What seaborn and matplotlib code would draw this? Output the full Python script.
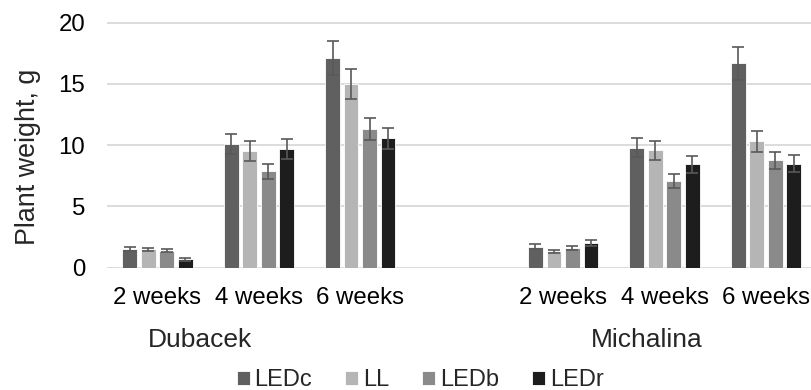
import pandas as pd
import matplotlib
matplotlib.use("Agg")
import matplotlib.pyplot as plt
import seaborn as sns

# Plant weight (g), mean and error, per treatment
# order in each list: Dubacek 2/4/6 weeks, Michalina 2/4/6 weeks
weeks = ["2 weeks", "4 weeks", "6 weeks"]
cultivars = ["Dubacek", "Michalina"]
treatments = ["LEDc", "LL", "LEDb", "LEDr"]

ledc = [1.55, 10.1, 17.1, 1.7, 9.8, 16.7]
ll = [1.5, 9.5, 15.0, 1.32, 9.6, 10.3]
ledb = [1.4, 7.85, 11.3, 1.6, 7.1, 8.75]
ledr = [0.68, 9.7, 10.55, 2.0, 8.43, 8.5]

ledc_err = [0.15, 0.85, 1.4, 0.2, 0.8, 1.35]
ll_err = [0.13, 0.8, 1.2, 0.13, 0.78, 0.86]
ledb_err = [0.12, 0.65, 0.9, 0.18, 0.57, 0.72]
ledr_err = [0.12, 0.8, 0.85, 0.22, 0.7, 0.7]

colors = {"LEDc": "#606060", "LL": "#b5b5b5", "LEDb": "#8a8a8a", "LEDr": "#1d1d1d"}

# build long table
means = {"LEDc": ledc, "LL": ll, "LEDb": ledb, "LEDr": ledr}
errs = {"LEDc": ledc_err, "LL": ll_err, "LEDb": ledb_err, "LEDr": ledr_err}
rows = []
for t in treatments:
    i = 0
    for c in cultivars:
        for w in weeks:
            rows.append({"slot": c + " " + w, "treatment": t,
                         "weight": means[t][i], "err": errs[t][i]})
            i += 1
df = pd.DataFrame(rows)

# empty slot between the two cultivars
order = [cultivars[0] + " " + w for w in weeks] + ["gap"] + [cultivars[1] + " " + w for w in weeks]

sns.set_theme(style="white")
plt.rcParams["font.family"] = ["Liberation Sans", "DejaVu Sans"]

fig = plt.figure(figsize=(8.11, 3.9), dpi=100)
ax = fig.add_axes([0.1316, 0.3118, 0.8755, 0.632])

sns.barplot(data=df, x="slot", y="weight", hue="treatment", order=order,
            hue_order=treatments, palette=colors, width=0.73, gap=0.2,
            errorbar=None, edgecolor="white", linewidth=0.6, ax=ax)

# error bars on top of the seaborn bars
for t, cont in zip(treatments, ax.containers):
    for bar in cont:
        h = bar.get_height()
        if pd.isna(h):
            continue
        cx = bar.get_x() + bar.get_width() / 2
        k = int(round(cx))
        if k < 0 or k >= len(order):
            continue
        sel = df[(df.slot == order[k]) & (df.treatment == t)]
        if sel.empty:
            continue
        ax.errorbar(cx, h, yerr=sel["err"].iloc[0], fmt="none", ecolor="#595959",
                    elinewidth=1.2, capsize=4.6, capthick=1.2, zorder=5)

ax.set_ylim(-0.06, 20.06)
ax.set_xlim(-0.5, 6.5)
ax.set_yticks([0, 5, 10, 15, 20])
ax.set_xticks(range(len(order)))
ax.set_xticklabels(weeks + [""] + weeks)
ax.tick_params(axis="both", length=0, labelsize=17.3, colors="black")
ax.tick_params(axis="y", pad=15.6)
ax.tick_params(axis="x", pad=13.5)

ax.yaxis.grid(True, color="#d9d9d9", linewidth=1.3)
ax.set_axisbelow(True)
for s in ax.spines.values():
    s.set_visible(False)

ax.set_xlabel("")
ax.set_ylabel("Plant weight, g", fontsize=19.4, va="center")
ax.yaxis.set_label_coords(-0.111, 0.454)

# cultivar labels under the week labels
lab_tr = ax.get_xaxis_transform()
ax.text(0.42, -0.32, cultivars[0], transform=lab_tr, ha="center", va="baseline", fontsize=19)
ax.text(4.82, -0.32, cultivars[1], transform=lab_tr, ha="center", va="baseline", fontsize=19)

sns.move_legend(ax, "center", bbox_to_anchor=(0.518, 0.025), bbox_transform=fig.transFigure,
                ncol=4, frameon=False, title=None, fontsize=17, handlelength=0.55,
                handleheight=0.55, handletextpad=0.2, columnspacing=1.4, borderpad=0)

fig.savefig("out.png", dpi=100)
